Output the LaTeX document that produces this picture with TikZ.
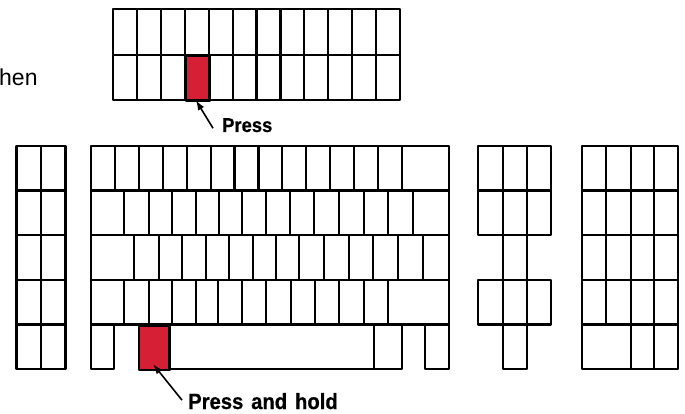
\documentclass[tikz,border=0pt]{standalone}
\usepackage{fontspec}
\setsansfont{Liberation Sans}
\newfontfamily\labelfont[FakeStretch=0.92,WordSpace=1.4,BoldFeatures={FakeBold=0.6}]{Liberation Sans}
\usepackage{tikz}
\usetikzlibrary{arrows.meta,positioning}
\definecolor{keyred}{RGB}{214,30,52}

\begin{document}
\begin{tikzpicture}[x=1pt,y=-1pt,keys/.style={line width=2.2pt,line join=round},
    hot/.style={keys,draw,fill=keyred,inner sep=0pt,anchor=north west},
    lbl/.style={inner sep=0pt,anchor=base west,font=\labelfont\bfseries\fontsize{#1}{#1}\selectfont},
    pointer/.style={line width=1.6pt,-{Latex[length=10pt,width=7pt]}}]
\useasboundingbox (0,0) rectangle (685,414);
% Here is where we draw the two red keys first, so the grid lines go on top
   \node[hot,minimum width=23.9pt,minimum height=45pt] (press_key) at (184.8,55) {};
   \node[hot,minimum width=31pt,minimum height=44.6pt] (hold_key) at (138,324.4) {};
% The row of function keys on top
   \draw[keys] (113,9) rectangle (400,100) (113,55) -- (400,55);
   \foreach \i in {1,...,11} \draw[keys] ({113+23.92*\i},9) -- ++(0,91);
% The two columns of keys on the left
   \draw[keys] (16.5,146) rectangle (65.5,369) (41,146) -- (41,369);
   \foreach \y in {190.6,235.2,279.8,324.4} \draw[keys] (16.5,\y) -- (65.5,\y);
% The main block, rows one to four
   \draw[keys] (91,146) rectangle (449,324.4);
   \foreach \y in {190.6,235.2,279.8} \draw[keys] (91,\y) -- (449,\y);
   \foreach \i in {1,...,13} \draw[keys] ({91+23.92*\i},146) -- ++(0,44.6);
   \foreach \x in {124,149,172,196,219,242,266,290,314,339,364,388,413}
      \draw[keys] (\x,190.6) -- ++(0,44.6);
   \foreach \x in {134,159,182,206,229,253,276,299,324,349,373,398,423}
      \draw[keys] (\x,235.2) -- ++(0,44.6);
   \foreach \x in {124,149,172,196,218,242,266,291,315,339,364,388}
      \draw[keys] (\x,279.8) -- ++(0,44.6);
% The bottom row, with the long bar
   \draw[keys] (91,324.4) rectangle (114,369) (169,324.4) rectangle (374,369)
      (374,324.4) rectangle (402,369) (425,324.4) rectangle (449,369);
% The middle block
   \draw[keys] (478,146) rectangle (551,235.2) (478,190.6) -- (551,190.6)
      (503,146) -- (503,235.2) (527,146) -- (527,235.2);
   \draw[keys] (503,235.2) rectangle (527,279.8);
   \draw[keys] (478,279.8) rectangle (551,324.4) (503,279.8) -- (503,324.4)
      (527,279.8) -- (527,324.4);
   \draw[keys] (503,324.4) rectangle (527,369);
% The block of keys on the right
   \draw[keys] (582,146) rectangle (678,369) (606,146) -- (606,324.4)
      (631,146) -- (631,369) (654,146) -- (654,369);
   \foreach \y in {190.6,235.2,279.8,324.4} \draw[keys] (582,\y) -- (678,\y);
% Here is where we put the texts and the arrows to the red keys
   \node[anchor=base west,inner sep=0pt,font=\sffamily\fontsize{23}{23}\selectfont] (then) at (-1,86) {hen};
   \node[lbl=20] (press) at (222,132) {Press};
   \node[lbl=22] (hold) at (188,409) {Press and hold};
   \draw[pointer] ([shift={(-9pt,-3pt)}]press.west) -- ([shift={(-2pt,2pt)}]press_key.south);
   \draw[pointer] ([shift={(-6pt,1pt)}]hold.west) -- ([shift={(-1.5pt,7pt)}]hold_key.south);
\end{tikzpicture}
\end{document}
